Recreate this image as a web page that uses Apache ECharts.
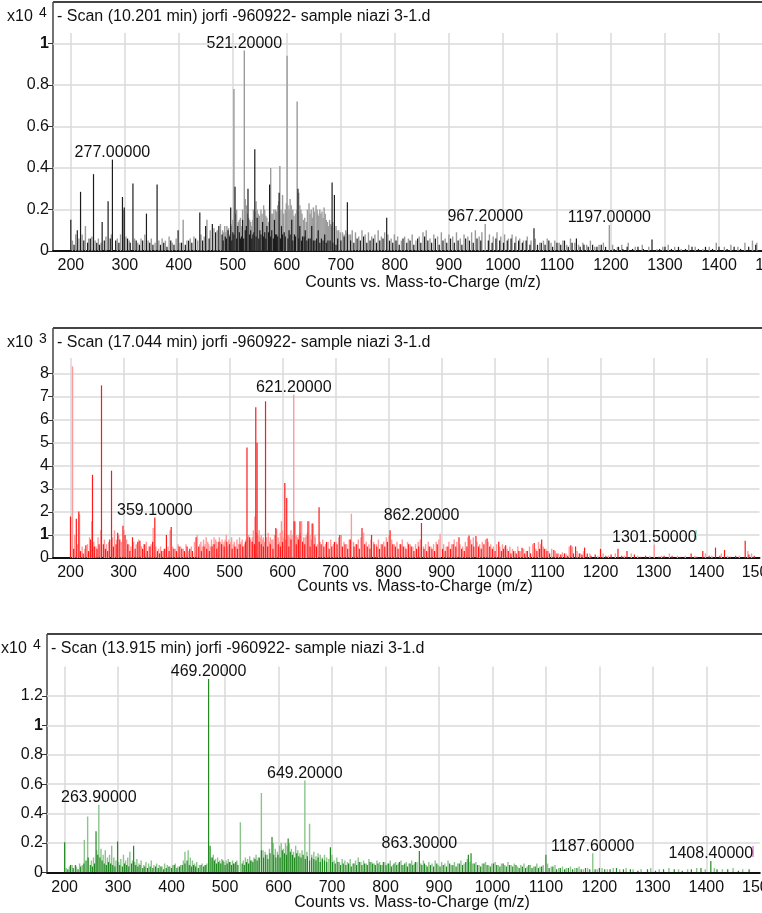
<!DOCTYPE html>
<html>
<head>
<meta charset="utf-8">
<script src="https://cdn.jsdelivr.net/npm/echarts@6/dist/echarts.min.js"></script>
<style>
html, body { margin: 0; padding: 0; background: #fff; }
#chart { width: 762px; height: 913px; }
</style>
</head>
<body>
<div id="chart"></div>
<script>
// scan headers and axis text
const scanTitles = [
  '- Scan (10.201 min) jorfi -960922- sample niazi 3-1.d',
  '- Scan (17.044 min) jorfi -960922- sample niazi 3-1.d',
  '- Scan (13.915 min) jorfi -960922- sample niazi 3-1.d'
];
const yExponents = ['4', '3', '4'];
const xAxisTitle = 'Counts vs. Mass-to-Charge (m/z)';

// panel 1 (x10^4 counts), [m/z, intensity]
const dark1 = [[200,0.15],[206,0.03],[212,0.1],[218,0.285],[224,0.05],[231,0.04],[236,0.06],[242,0.37],[248,0.04],[253,0.03],[258,0.14],[262,0.05],[269,0.24],[273,0.06],[277,0.44],[283,0.05],[289,0.04],[295.6,0.26],[299,0.21],[305,0.06],[310,0.04],[315,0.325],[321,0.05],[327,0.03],[333,0.05],[340,0.18],[346,0.04],[352,0.03],[359.7,0.32],[366,0.03],[372,0.04],[378,0.02],[385,0.05],[391,0.03],[398.6,0.1],[405,0.04],[412,0.03],[418,0.05],[424,0.04],[431,0.06],[438.8,0.185],[444,0.05],[449.6,0.12],[456,0.06],[462,0.13],[468,0.09],[474,0.12],[480,0.08],[482,0.05],[486,0.07],[488,0.06],[491,0.1],[494,0.07],[496,0.21],[498,0.05],[500,0.09],[502,0.08],[504,0.31],[507,0.06],[509,0.12],[512,0.09],[514,0.06],[516,0.07],[518,0.15],[520,0.06],[523,0.1],[525,0.12],[528,0.3],[531,0.08],[533,0.1],[535,0.06],[537,0.08],[539,0.09],[540.6,0.49],[543,0.07],[545,0.16],[548,0.06],[550,0.1],[552,0.08],[555,0.14],[557,0.07],[559,0.09],[561,0.06],[563,0.12],[566,0.09],[568,0.32],[570,0.07],[572,0.1],[575,0.06],[577,0.15],[579,0.08],[581,0.08],[583,0.07],[585.6,0.28],[588,0.06],[590,0.12],[592,0.08],[595,0.09],[597,0.07],[602,0.06],[604,0.1],[606,0.08],[609,0.15],[611,0.05],[614,0.08],[616,0.07],[620.5,0.3],[622,0.06],[624,0.12],[627,0.05],[629,0.07],[632,0.07],[634,0.1],[637,0.05],[640,0.06],[643,0.06],[646,0.12],[649,0.05],[652,0.05],[655,0.06],[658,0.1],[661,0.04],[664,0.06],[667,0.05],[670,0.08],[673,0.04],[676,0.05],[680,0.05],[683.7,0.33],[685,0.04],[688,0.27],[691,0.03],[694,0.06],[700,0.05],[706,0.07],[712,0.235],[718,0.05],[724,0.04],[730,0.06],[736,0.05],[742,0.07],[748,0.04],[754,0.05],[760,0.06],[766,0.04],[772,0.05],[778,0.06],[784.8,0.16],[790,0.05],[796,0.04],[802,0.05],[808,0.03],[815,0.06],[822,0.04],[828,0.05],[835,0.03],[842,0.06],[848,0.04],[855,0.07],[861,0.05],[868,0.04],[875,0.06],[882,0.03],[889,0.05],[896,0.04],[903,0.06],[910,0.04],[917,0.05],[924,0.03],[931,0.06],[938,0.05],[945,0.04],[952,0.06],[959,0.05],[973,0.05],[980,0.04],[987,0.06],[994,0.05],[1001,0.04],[1008,0.05],[1015,0.06],[1022,0.04],[1029,0.05],[1036,0.04],[1043,0.05],[1050,0.03],[1057.5,0.11],[1064,0.03],[1071,0.04],[1078,0.03],[1085,0.05],[1092,0.02],[1100,0.04],[1107,0.03],[1114,0.05],[1121,0.02],[1128,0.04],[1136,0.06],[1143,0.02],[1150,0.03],[1158,0.02],[1166,0.03],[1174,0.02],[1182,0.03],[1190,0.02],[1206,0.01],[1214,0.02],[1222,0.01],[1230,0.02],[1240,0.01],[1250,0.02],[1260,0.01],[1276,0.055],[1290,0.01],[1300,0.02],[1312,0.01],[1325,0.02],[1338,0.01],[1350,0.02],[1362,0.01],[1375,0.02],[1388,0.01],[1400,0.02],[1415,0.01],[1428,0.02],[1440,0.01],[1455,0.02],[1468,0.03]];
const light1 = [[203,0.05],[209,0.08],[215,0.06],[221,0.08],[227,0.12],[233,0.06],[239,0.07],[245,0.05],[251,0.06],[256,0.04],[265,0.07],[275,0.08],[286,0.06],[292,0.08],[297,0.2],[302,0.07],[308,0.05],[318,0.06],[324,0.04],[330,0.06],[337,0.08],[343,0.05],[349,0.06],[356,0.04],[363,0.05],[369,0.06],[375,0.05],[382,0.07],[388,0.04],[395,0.06],[402,0.04],[408,0.15],[415,0.05],[421,0.06],[428,0.07],[435,0.05],[441,0.08],[447,0.07],[452,0.15],[458,0.1],[465,0.11],[471,0.1],[477,0.13],[481,0.1],[483,0.09],[485,0.12],[487,0.09],[489,0.12],[492,0.11],[494,0.08],[496,0.13],[498,0.12],[500,0.15],[502,0.78],[505,0.18],[507,0.2],[510,0.14],[512,0.15],[514,0.16],[516,0.12],[518,0.2],[521.2,0.966],[523,0.25],[525,0.22],[527,0.18],[529,0.16],[531,0.15],[533,0.14],[535,0.12],[537,0.15],[538,0.2],[541,0.19],[543,0.24],[545,0.2],[547,0.18],[549,0.17],[552,0.2],[554,0.18],[557,0.22],[559,0.2],[561,0.17],[563,0.16],[566,0.14],[568,0.22],[570,0.4],[572,0.18],[574,0.18],[576,0.2],[579,0.2],[581,0.19],[583,0.22],[585,0.24],[587,0.41],[589,0.2],[592,0.27],[594,0.18],[597,0.2],[599,0.23],[600.4,0.94],[602,0.22],[604,0.2],[606,0.25],[608,0.22],[611,0.2],[613,0.17],[616,0.18],[618,0.2],[619,0.72],[622,0.28],[624,0.22],[626,0.2],[628,0.18],[631,0.15],[633,0.16],[636,0.14],[638,0.2],[641,0.23],[643,0.18],[645,0.2],[647,0.16],[649,0.21],[651,0.19],[654,0.22],[656,0.2],[657,0.18],[659,0.17],[661,0.2],[663,0.18],[665,0.19],[667,0.16],[669,0.21],[671,0.18],[673,0.15],[675,0.14],[677,0.12],[679,0.15],[681,0.13],[683,0.12],[685,0.14],[688,0.11],[691,0.12],[693,0.1],[696,0.1],[699,0.09],[703,0.09],[706,0.08],[709,0.1],[712,0.09],[715,0.08],[718,0.08],[721,0.1],[727,0.09],[733,0.07],[739,0.1],[745,0.08],[751,0.09],[757,0.07],[763,0.08],[769,0.1],[775,0.07],[781,0.09],[787,0.08],[793,0.06],[799,0.08],[805,0.07],[812,0.05],[818,0.07],[825,0.06],[832,0.08],[839,0.05],[845,0.07],[852,0.09],[858,0.1],[865,0.06],[872,0.08],[879,0.07],[886,0.09],[893,0.06],[900,0.08],[907,0.07],[914,0.09],[921,0.06],[928,0.08],[935,0.07],[942,0.09],[949,0.1],[956,0.07],[961,0.09],[967.2,0.13],[975,0.08],[982,0.07],[989,0.09],[996,0.07],[1003,0.08],[1010,0.06],[1017,0.08],[1024,0.07],[1031,0.06],[1038,0.05],[1045,0.07],[1052,0.05],[1060,0.06],[1068,0.04],[1075,0.05],[1082,0.06],[1089,0.04],[1096,0.05],[1104,0.04],[1111,0.05],[1118,0.03],[1125,0.06],[1133,0.04],[1140,0.03],[1148,0.04],[1155,0.03],[1162,0.05],[1170,0.02],[1178,0.03],[1186,0.04],[1197,0.125],[1203,0.03],[1212,0.02],[1220,0.03],[1232,0.04],[1245,0.02],[1258,0.03],[1270,0.02],[1285,0.01],[1296,0.02],[1306,0.03],[1318,0.02],[1330,0.01],[1344,0.03],[1356,0.02],[1370,0.01],[1382,0.02],[1395,0.04],[1410,0.02],[1422,0.03],[1435,0.02],[1448,0.04],[1462,0.05],[1470,0.04]];
const annot1 = [277.0, 521.2, 967.2, 1197.0];

// panel 2 (x10^3 counts)
const dark2 = [[200,1.8],[206,0.4],[211,1.7],[215.7,2.02],[219,0.3],[224,0.2],[229,0.55],[234,0.3],[238,0.8],[241.5,3.61],[245,0.5],[250,0.4],[254,0.6],[258.5,7.49],[262,0.6],[266,0.4],[270,0.3],[274,0.8],[277.4,3.79],[281,0.5],[286,0.6],[289,1.1],[293,0.8],[299,1.4],[303,1.0],[308,0.6],[312,0.3],[317,0.9],[322,0.4],[327,0.7],[331,0.75],[336,0.4],[340,0.6],[345,0.3],[350,0.5],[355,0.7],[359.1,1.76],[364,0.3],[368,0.2],[372,0.3],[377,0.4],[381,1.0],[386,0.3],[390,1.35],[395,0.4],[400,0.3],[405,0.5],[410,0.4],[415,0.3],[420,0.5],[425,0.4],[430,0.3],[437,0.9],[442,0.5],[447,0.3],[452,0.5],[457,0.4],[462,0.3],[467,0.5],[471,0.6],[476,0.4],[480,0.7],[485,0.6],[490,0.5],[495,0.7],[500,0.6],[505,0.4],[510,0.5],[515,0.4],[520,0.6],[525,0.5],[530,0.7],[533,4.8],[538,0.9],[543,0.7],[547,0.6],[549.6,6.54],[552,5.0],[556,0.7],[560,0.6],[564,0.5],[568,6.8],[572,0.5],[577,0.6],[582,0.4],[587.4,1.3],[592,0.6],[596,0.5],[600,0.7],[604.4,3.25],[608,2.6],[612,0.5],[616,0.8],[622,1.6],[626,0.6],[630,0.8],[633,1.6],[638,0.7],[642,0.6],[648,1.6],[652,0.5],[656,1.5],[660,0.6],[664,0.5],[669,2.2],[673,0.6],[678,0.5],[683,0.7],[688,0.4],[693,0.5],[698,0.7],[703,0.6],[708,1.0],[713,0.5],[718,0.6],[723,0.4],[728,0.8],[735,0.5],[740,0.6],[745,0.4],[750,1.3],[755,0.6],[760,0.5],[765,0.4],[768,1.0],[773,0.6],[778,0.5],[783,0.4],[788,0.6],[793,0.5],[798,0.7],[803,1.2],[808,0.6],[813,0.5],[818,0.4],[823,0.6],[828,0.5],[833,0.4],[838,0.6],[843,0.5],[848,0.3],[853,0.4],[857,0.5],[862.2,1.52],[867,0.4],[872,0.3],[877,0.5],[882,0.4],[887,0.3],[892,0.6],[902,0.4],[907,0.3],[912,0.5],[917,0.4],[922,0.6],[927,0.5],[933,0.9],[938,0.4],[943,0.3],[948,0.5],[952,0.98],[957,0.6],[961,0.5],[965,0.95],[970,0.5],[975,0.4],[980,0.6],[986,0.85],[991,0.5],[996,0.4],[1001,0.3],[1008,0.7],[1013,0.3],[1017,0.4],[1021,0.55],[1026,0.3],[1031,0.2],[1036,0.3],[1041,0.2],[1046,0.3],[1052,0.45],[1057,0.2],[1062,0.3],[1068,0.2],[1075,0.65],[1080,0.3],[1085,0.4],[1089,0.8],[1094,0.4],[1099,0.3],[1104,0.2],[1112,0.35],[1118,0.2],[1125,0.15],[1132,0.2],[1138,0.1],[1144,0.55],[1149,0.2],[1153,0.5],[1160,0.2],[1165,0.15],[1170,0.45],[1175,0.2],[1182,0.1],[1190,0.15],[1200,0.4],[1210,0.1],[1220,0.15],[1233,0.4],[1240,0.1],[1250,0.3],[1264,0.15],[1275,0.05],[1285,0.1],[1310,0.05],[1320,0.1],[1335,0.1],[1350,0.05],[1371,0.2],[1382,0.05],[1393,0.3],[1405,0.1],[1417,0.45],[1425,0.1],[1434,0.35],[1445,0.05],[1455,0.1],[1473,0.75],[1480,0.15],[1490,0.1]];
const light2 = [[203.8,8.32],[208,1.0],[213,0.6],[217,1.9],[222,0.5],[227,0.4],[232,0.6],[236,0.9],[240,1.6],[244,0.7],[248,0.5],[252,0.9],[257,1.2],[264,0.8],[268,0.6],[272,0.7],[279,0.9],[283,1.2],[287,0.8],[291,1.0],[296,0.7],[301,1.2],[306,0.8],[310,0.6],[314,0.5],[319,0.7],[324,0.6],[329,0.8],[334,0.5],[338,0.6],[343,0.7],[348,0.5],[352,0.6],[356,1.3],[361,0.5],[366,0.4],[370,0.5],[375,0.3],[379,0.4],[384,0.5],[388,1.2],[393,0.5],[398,0.4],[403,0.6],[408,0.5],[413,0.4],[418,0.6],[423,0.3],[428,0.5],[434,0.7],[439,1.0],[444,0.6],[446,0.7],[449,0.5],[451,0.8],[454,0.6],[456,0.9],[459,0.7],[461,0.6],[464,0.5],[466,0.8],[469,0.6],[471,0.9],[474,0.8],[476,0.7],[478,0.5],[481,0.9],[483,0.7],[486,0.8],[488,0.6],[490,0.7],[492,0.8],[494,1.0],[497,0.5],[499,0.8],[502,0.7],[504,0.9],[507,0.6],[509,0.7],[512,0.5],[514,0.8],[517,0.6],[519,0.9],[522,0.7],[524,0.8],[527,0.5],[529,0.6],[531,0.8],[534,0.9],[536,1.0],[539,0.8],[541,0.7],[543,0.9],[545,1.2],[548,1.8],[551,1.1],[554,1.0],[556,1.2],[558,0.9],[560,1.0],[562,0.8],[564,0.9],[566,0.7],[570,0.9],[573,1.1],[575,0.7],[577,0.9],[580,0.8],[582,0.8],[585,1.0],[587,1.0],[589,1.25],[592,0.9],[594,0.7],[596,1.1],[598,1.6],[600,1.2],[602,0.9],[606,0.8],[610,1.0],[612,1.0],[614,0.9],[616,1.2],[618,1.0],[621.2,7.09],[624,1.6],[626,1.0],[628,0.9],[631,1.0],[634,1.1],[636,1.6],[640,0.9],[643,0.9],[645,1.0],[647,1.1],[650,1.6],[652,1.0],[654,0.8],[658,1.5],[661,1.0],[662,0.9],[666,0.6],[671,0.7],[676,0.8],[681,0.6],[686,0.7],[691,0.8],[696,0.6],[701,0.7],[706,0.9],[711,1.0],[716,0.7],[721,0.6],[726,0.8],[730,1.92],[734,0.7],[738,0.6],[743,0.8],[748,0.9],[753,1.1],[758,0.7],[763,0.6],[767,0.8],[772,0.7],[777,0.6],[781,0.8],[786,0.6],[791,0.7],[796,0.9],[801,1.0],[806,0.8],[811,0.6],[816,0.7],[821,0.6],[826,0.8],[831,0.5],[836,0.7],[841,0.6],[846,0.5],[851,0.6],[856,0.7],[860,0.8],[866,0.5],[870,0.6],[875,0.7],[880,0.5],[885,0.6],[890,0.7],[895,0.8],[897.4,1.05],[904,0.6],[909,0.5],[914,0.7],[919,0.6],[924,0.8],[929,0.7],[935,0.6],[940,0.5],[945,0.7],[950,0.9],[955,0.8],[960,0.9],[967,0.7],[972,0.6],[977,0.7],[983,0.8],[988,0.7],[993,0.6],[998,0.5],[1004,0.6],[1010,0.5],[1015,0.6],[1019,0.5],[1024,0.4],[1029,0.5],[1034,0.4],[1039,0.3],[1044,0.5],[1049,0.3],[1055,0.4],[1060,0.3],[1066,0.5],[1072,0.6],[1078,0.4],[1083,0.7],[1087,0.6],[1092,0.5],[1097,0.4],[1102,0.3],[1108,0.4],[1115,0.3],[1121,0.2],[1128,0.25],[1135,0.2],[1141,0.5],[1147,0.5],[1156,0.3],[1162,0.2],[1168,0.3],[1180,0.2],[1195,0.1],[1205,0.2],[1215,0.1],[1228,0.2],[1245,0.1],[1258,0.2],[1270,0.1],[1293,0.1],[1301.5,0.58],[1315,0.1],[1330,0.2],[1345,0.1],[1360,0.1],[1378,0.1],[1398,0.2],[1410,0.1],[1428,0.2],[1440,0.1],[1462,0.1],[1478,0.3],[1485,0.2]];
const annot2 = [359.1, 621.2, 862.2, 1301.5];

// panel 3 (x10^4 counts)
const dark3 = [[200,0.204],[206,0.02],[211,0.05],[216,0.03],[220,0.05],[225,0.02],[230,0.04],[236,0.06],[240,0.08],[244,0.1],[248,0.05],[252,0.04],[256,0.06],[258.7,0.28],[262,0.12],[266,0.1],[270,0.08],[274,0.06],[278,0.05],[282,0.07],[286,0.06],[290,0.05],[294,0.04],[299,0.21],[303,0.05],[308,0.04],[312,0.06],[316,0.05],[320,0.04],[325,0.06],[329,0.18],[333,0.05],[337,0.04],[341,0.05],[346,0.03],[350,0.04],[355,0.03],[360,0.04],[365,0.03],[370,0.04],[375,0.03],[380,0.04],[385,0.02],[390,0.03],[395,0.04],[400,0.03],[405,0.05],[410,0.03],[415,0.04],[420,0.05],[425,0.06],[429,0.08],[433,0.05],[437,0.04],[441,0.05],[445,0.04],[450,0.03],[455,0.05],[460,0.04],[464,0.05],[469.2,1.315],[472,0.18],[476,0.1],[480,0.08],[484,0.06],[488,0.07],[492,0.06],[496,0.08],[500,0.05],[504,0.06],[508,0.07],[512,0.05],[516,0.06],[520,0.07],[524,0.05],[532,0.06],[536,0.05],[540,0.07],[544,0.06],[548,0.08],[552,0.07],[556,0.09],[560,0.08],[564,0.1],[568,0.15],[572,0.1],[576,0.12],[580,0.09],[584,0.13],[587.8,0.24],[591,0.12],[595,0.1],[599,0.12],[603,0.1],[607,0.15],[611,0.13],[615,0.12],[618,0.23],[622,0.14],[626,0.12],[630,0.1],[634,0.13],[638,0.11],[642,0.1],[646,0.12],[650,0.09],[654,0.11],[658,0.08],[662,0.1],[666,0.09],[670,0.08],[674,0.1],[678,0.07],[682,0.09],[686,0.08],[690,0.07],[697,0.17],[701,0.07],[706,0.06],[711,0.07],[716,0.05],[721,0.06],[726,0.05],[731,0.06],[736,0.04],[741,0.06],[746,0.05],[751,0.07],[756,0.05],[761,0.06],[766,0.05],[771,0.07],[776,0.06],[781,0.05],[786,0.06],[791,0.05],[796,0.07],[801,0.05],[806,0.06],[811,0.04],[816,0.06],[821,0.05],[826,0.07],[831,0.05],[836,0.06],[841,0.04],[846,0.06],[851,0.05],[856,0.07],[863.3,0.145],[868,0.05],[873,0.06],[878,0.04],[884,0.05],[890,0.04],[896,0.06],[902,0.04],[908,0.05],[914,0.04],[920,0.06],[926,0.05],[932,0.04],[938,0.06],[944,0.05],[950,0.07],[955,0.12],[960,0.13],[966,0.06],[972,0.05],[978,0.04],[984,0.06],[990,0.05],[996,0.04],[1002,0.06],[1008,0.05],[1014,0.04],[1020,0.06],[1026,0.04],[1032,0.05],[1038,0.04],[1044,0.05],[1050,0.03],[1056,0.04],[1062,0.03],[1068,0.05],[1074,0.03],[1080,0.04],[1086,0.03],[1092,0.04],[1100,0.12],[1106,0.03],[1113,0.04],[1120,0.02],[1127,0.03],[1135,0.02],[1142,0.03],[1150,0.02],[1158,0.03],[1166,0.02],[1174,0.03],[1182,0.02],[1192,0.02],[1200,0.03],[1210,0.02],[1220,0.02],[1232,0.03],[1245,0.02],[1258,0.02],[1272,0.01],[1290,0.02],[1305,0.01],[1320,0.02],[1340,0.02],[1355,0.01],[1372,0.02],[1390,0.03],[1408.4,0.077],[1420,0.02],[1440,0.02],[1460,0.01],[1480,0.02]];
const light3 = [[203,0.03],[209,0.04],[214,0.05],[222,0.04],[228,0.06],[233,0.05],[236.8,0.22],[243,0.38],[250,0.08],[254,0.1],[260,0.15],[263.9,0.46],[268,0.16],[272,0.12],[276,0.15],[280,0.1],[284,0.12],[288,0.18],[292,0.1],[296,0.08],[301,0.07],[305,0.09],[310,0.12],[314,0.08],[318,0.1],[322,0.14],[327,0.08],[331,0.07],[335,0.09],[339,0.06],[343,0.08],[348,0.05],[352,0.07],[357,0.06],[362,0.08],[367,0.05],[372,0.06],[377,0.05],[382,0.04],[387,0.06],[392,0.05],[397,0.04],[402,0.05],[407,0.06],[412,0.04],[417,0.05],[422,0.08],[425,0.14],[431,0.15],[435,0.1],[439,0.08],[443,0.06],[447,0.07],[452,0.05],[457,0.06],[462,0.05],[466,0.06],[474,0.1],[478,0.12],[482,0.09],[486,0.1],[490,0.08],[494,0.09],[498,0.07],[502,0.08],[506,0.09],[510,0.07],[514,0.08],[518,0.06],[522,0.08],[528.6,0.34],[534,0.08],[538,0.1],[542,0.09],[546,0.11],[550,0.08],[554,0.1],[558,0.12],[562,0.1],[567.9,0.54],[571,0.15],[575,0.14],[579,0.12],[583,0.16],[590,0.2],[594,0.16],[598,0.14],[602,0.18],[605,0.2],[609,0.16],[613,0.2],[616,0.18],[620,0.2],[624,0.16],[628,0.14],[632,0.18],[636,0.15],[640,0.13],[644,0.15],[649.2,0.625],[653,0.14],[658,0.33],[662,0.12],[666,0.14],[670,0.11],[674,0.13],[678,0.12],[682,0.1],[686,0.12],[690,0.1],[694,0.09],[700,0.12],[704,0.08],[709,0.1],[714,0.07],[719,0.09],[724,0.08],[729,0.07],[734,0.09],[739,0.06],[744,0.08],[749,0.1],[754,0.07],[759,0.08],[764,0.06],[769,0.09],[774,0.07],[779,0.06],[784,0.08],[789,0.07],[794,0.05],[799,0.07],[804,0.06],[809,0.08],[814,0.05],[819,0.07],[824,0.06],[829,0.08],[834,0.05],[839,0.07],[844,0.06],[849,0.08],[854,0.06],[859,0.07],[866,0.06],[871,0.08],[876,0.05],[881,0.07],[887,0.06],[893,0.08],[899,0.05],[905,0.07],[911,0.06],[917,0.08],[923,0.05],[929,0.07],[935,0.06],[941,0.08],[947,0.06],[953,0.09],[958,0.07],[963,0.06],[969,0.07],[975,0.05],[981,0.06],[987,0.07],[993,0.05],[999,0.06],[1005,0.07],[1011,0.05],[1017,0.06],[1023,0.05],[1029,0.07],[1035,0.05],[1041,0.06],[1047,0.04],[1053,0.05],[1059,0.06],[1065,0.04],[1071,0.05],[1077,0.04],[1083,0.06],[1089,0.04],[1095,0.05],[1103,0.06],[1110,0.04],[1117,0.05],[1124,0.03],[1131,0.04],[1138,0.03],[1146,0.04],[1154,0.03],[1162,0.04],[1170,0.02],[1178,0.03],[1187.6,0.13],[1196,0.02],[1205,0.03],[1215,0.02],[1226,0.03],[1238,0.02],[1250,0.03],[1263,0.02],[1278,0.02],[1296,0.03],[1312,0.02],[1330,0.03],[1348,0.02],[1365,0.02],[1382,0.03],[1398,0.02],[1415,0.03],[1430,0.02],[1450,0.03],[1468,0.02]];
const annot3 = [263.9, 469.2, 649.2, 863.3, 1187.6, 1408.4];

const FONT = '"Liberation Sans", Arial, Helvetica, sans-serif';

// layout per panel (pixels)
const panels = [
  { dark: dark1, light: light1, annot: annot1, colors: ['#1c1c1c', '#9b9b9b'],
    left: 53, right: -11, top: 33, bottom: 662, frameTop: 2, yMax: 1.05, yStep: 0.2,
    xName: 423, yName: 283 },
  { dark: dark2, light: light2, annot: annot2, colors: ['#ff1a1a', '#ff9a9a'],
    left: 53, right: 2.5, top: 358, bottom: 355, frameTop: 328, yMax: 8.68, yStep: 1,
    xName: 415, yName: 587 },
  { dark: dark3, light: light3, annot: annot3, colors: ['#208a20', '#8cc48c'],
    left: 47, right: 2.2, top: 666.5, bottom: 40.7, frameTop: 634, yMax: 1.4, yStep: 0.2,
    xName: 412, yName: 903 }
];

const H = 913, W = 762;
const grids = [], xAxes = [], yAxes = [], series = [], graphics = [];

function peakAt(p, mz) {
  let best = null;
  p.dark.concat(p.light).forEach(d => {
    if (Math.abs(d[0] - mz) < 1.5 && (!best || d[1] > best[1])) best = d;
  });
  return [mz, best ? best[1] : 0];
}

// vertical sticks from the baseline to each intensity
function sticks(i, data, color, width) {
  return {
    type: 'custom', xAxisIndex: i, yAxisIndex: i, data: data, silent: true, clip: true,
    encode: { x: 0, y: 1 },
    renderItem: (params, api) => {
      const top = api.coord([api.value(0), api.value(1)]);
      const base = api.coord([api.value(0), 0]);
      return { type: 'line', shape: { x1: top[0], y1: top[1], x2: top[0], y2: base[1] },
        style: { stroke: color, lineWidth: width } };
    }
  };
}

panels.forEach((p, i) => {
  grids.push({ left: p.left, right: p.right, top: p.top, bottom: p.bottom,
    containLabel: false, outerBoundsMode: 'none' });
  xAxes.push({
    type: 'value', gridIndex: i, min: 167, max: 1500,
    minInterval: 100, maxInterval: 100, splitNumber: 13,
    axisLine: { show: true, onZero: false, lineStyle: { color: '#111', width: 2 } },
    axisTick: { show: false },
    axisLabel: { showMinLabel: false, color: '#111', fontSize: 16, fontFamily: FONT, margin: 7,
      formatter: v => String(v) },
    splitLine: { show: true, showMinLine: false, showMaxLine: false, lineStyle: { color: '#dadada', width: 1.5 } }
  });
  yAxes.push({
    type: 'value', gridIndex: i, min: 0, max: p.yMax, interval: p.yStep,
    axisLine: { show: false },
    axisTick: { show: true, length: 5, lineStyle: { color: '#333' } },
    axisLabel: {
      showMaxLabel: false, color: '#111', fontSize: 16, fontFamily: FONT, margin: 4,
      formatter: v => {
        const s = String(Number(v.toFixed(3)));
        return s === '1' ? '{b|1}' : s;
      },
      rich: { b: { fontWeight: 'bold', fontSize: 16, fontFamily: FONT, color: '#111' } }
    },
    splitLine: { show: true, showMaxLine: false, lineStyle: { color: '#dadada', width: 1.5 } }
  });
  series.push(sticks(i, p.light, p.colors[1], 1.4));
  series.push(sticks(i, p.dark, p.colors[0], 1.2));
  // peak annotations sitting on the peak tops
  series.push({
    type: 'custom', xAxisIndex: i, yAxisIndex: i, silent: true, clip: false,
    encode: { x: 0, y: 1 },
    data: p.annot.map(mz => peakAt(p, mz)),
    renderItem: (params, api) => {
      const pt = api.coord([api.value(0), api.value(1)]);
      return { type: 'text', x: pt[0], y: pt[1] + 1,
        style: { text: api.value(0).toFixed(5), fill: '#111', font: '16px ' + FONT,
          align: 'center', verticalAlign: 'bottom' } };
    }
  });

  // frame: top and left border of the plot box
  const axisY = H - p.bottom;
  graphics.push({ type: 'line', shape: { x1: p.left, y1: p.frameTop, x2: W, y2: p.frameTop },
    style: { stroke: '#444', lineWidth: 2 } });
  graphics.push({ type: 'line', shape: { x1: p.left, y1: p.frameTop, x2: p.left, y2: axisY },
    style: { stroke: '#444', lineWidth: 1.5 } });
  // scan header
  graphics.push({ type: 'text', x: p.left + 4, y: p.frameTop + 15,
    style: { text: scanTitles[i], fill: '#111', font: '16px ' + FONT, verticalAlign: 'middle' } });
  // x10^n
  graphics.push({ type: 'text', x: p.left - 46, y: p.frameTop + 15,
    style: { text: 'x10', fill: '#111', font: '16px ' + FONT, verticalAlign: 'middle' } });
  graphics.push({ type: 'text', x: p.left - 14, y: p.frameTop + 11,
    style: { text: yExponents[i], fill: '#111', font: '14px ' + FONT, verticalAlign: 'middle' } });
  // x axis title
  graphics.push({ type: 'text', x: p.xName, y: p.yName,
    style: { text: xAxisTitle, fill: '#111', font: '16px ' + FONT, align: 'center', verticalAlign: 'middle' } });
});

// cursor marks at the end of two annotations
graphics.push({ type: 'line', shape: { x1: 696, y1: 530, x2: 696, y2: 540 }, style: { stroke: '#3cc8a8', lineWidth: 1 } });
graphics.push({ type: 'line', shape: { x1: 753, y1: 846, x2: 753, y2: 857 }, style: { stroke: '#e040c0', lineWidth: 1 } });

const chart = echarts.init(document.getElementById('chart'));
chart.setOption({
  animation: false,
  backgroundColor: '#fff',
  grid: grids,
  xAxis: xAxes,
  yAxis: yAxes,
  series: series,
  graphic: graphics
});
</script>
</body>
</html>
